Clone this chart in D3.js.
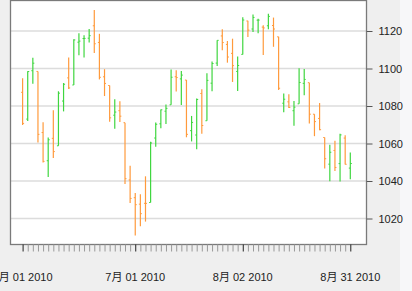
<!DOCTYPE html>
<html>
<head>
<meta charset="utf-8">
<script src="https://cdn.jsdelivr.net/npm/d3@7"></script>
<style>
  body { margin: 0; background: #efefef; }
  svg { display: block; }
  text { font-family: "Liberation Sans", Arial, "Noto Sans CJK SC", sans-serif; font-size: 11px; fill: #222; }
</style>
</head>
<body>
<div id="chart"></div>
<script>
// S&P 500 daily bars, 2010-06-01 .. 2010-08-31
var dates = ['2010-06-01','2010-06-02','2010-06-03','2010-06-04','2010-06-07','2010-06-08','2010-06-09','2010-06-10','2010-06-11',
  '2010-06-14','2010-06-15','2010-06-16','2010-06-17','2010-06-18','2010-06-21','2010-06-22','2010-06-23','2010-06-24','2010-06-25',
  '2010-06-28','2010-06-29','2010-06-30','2010-07-01','2010-07-02','2010-07-06','2010-07-07','2010-07-08','2010-07-09',
  '2010-07-12','2010-07-13','2010-07-14','2010-07-15','2010-07-16','2010-07-19','2010-07-20','2010-07-21','2010-07-22','2010-07-23',
  '2010-07-26','2010-07-27','2010-07-28','2010-07-29','2010-07-30','2010-08-02','2010-08-03','2010-08-04','2010-08-05','2010-08-06',
  '2010-08-09','2010-08-10','2010-08-11','2010-08-12','2010-08-13','2010-08-16','2010-08-17','2010-08-18','2010-08-19','2010-08-20',
  '2010-08-23','2010-08-24','2010-08-25','2010-08-26','2010-08-27','2010-08-30','2010-08-31']
var open = [1087.30,1073.01,1098.82,1098.43,1065.84,1050.81,1062.75,1058.77,1082.65,
  1095.00,1091.21,1114.02,1115.98,1116.16,1122.79,1113.90,1095.57,1090.93,1075.10,
  1077.50,1071.10,1040.56,1031.10,1027.65,1028.09,1028.54,1062.92,1070.50,
  1077.23,1080.65,1095.61,1094.46,1093.85,1066.85,1064.53,1086.67,1072.14,1092.17,
  1102.89,1117.36,1112.84,1108.07,1098.44,1107.53,1125.34,1121.06,1125.78,1122.07,
  1122.80,1122.92,1116.89,1081.48,1082.22,1077.49,1081.16,1092.08,1092.44,1075.63,
  1073.36,1063.20,1048.98,1056.28,1049.27,1062.90,1046.88]
var high = [1094.77,1098.56,1105.67,1098.43,1071.36,1063.15,1077.74,1087.85,1092.25,
  1105.91,1115.59,1118.74,1117.72,1121.01,1131.23,1118.50,1099.64,1090.93,1083.56,
  1082.60,1071.10,1048.08,1033.58,1032.95,1042.50,1060.89,1071.25,1078.16,
  1080.78,1099.46,1099.08,1098.66,1093.85,1074.70,1083.94,1088.96,1097.50,1103.73,
  1115.01,1120.95,1114.66,1115.90,1106.44,1127.30,1125.44,1128.75,1126.56,1123.06,
  1129.24,1127.16,1116.89,1086.72,1086.25,1082.62,1100.14,1099.77,1092.44,1075.63,
  1081.58,1063.20,1059.38,1061.45,1065.21,1064.40,1055.14]
var low = [1069.89,1072.03,1091.81,1060.50,1049.86,1042.17,1052.25,1058.77,1077.12,
  1089.03,1091.21,1107.13,1105.87,1113.93,1108.24,1094.18,1085.31,1071.60,1067.89,
  1071.45,1038.38,1028.33,1010.91,1015.93,1018.35,1028.54,1058.24,1068.10,
  1070.45,1080.65,1087.68,1080.53,1063.32,1061.11,1056.88,1065.25,1072.14,1087.88,
  1101.30,1109.78,1103.11,1092.82,1088.01,1107.53,1116.76,1119.46,1118.81,1107.17,
  1120.91,1111.58,1088.55,1076.69,1079.00,1069.49,1081.16,1085.76,1070.66,1063.91,
  1067.08,1046.68,1039.83,1045.40,1039.70,1048.79,1040.88]
var close = [1070.71,1098.38,1102.83,1064.88,1050.47,1062.00,1055.69,1086.84,1091.60,
  1089.63,1115.23,1114.61,1116.04,1117.51,1113.20,1095.31,1092.04,1073.69,1076.76,
  1074.57,1041.24,1030.71,1027.37,1022.58,1028.06,1060.27,1070.25,1077.96,
  1078.75,1095.34,1095.17,1096.48,1064.88,1071.25,1083.48,1069.59,1093.67,1102.66,
  1115.01,1113.84,1106.13,1101.53,1101.60,1125.86,1120.46,1127.24,1125.81,1121.64,
  1127.79,1121.06,1089.47,1083.61,1079.25,1079.38,1092.54,1094.16,1075.63,1071.69,
  1067.36,1051.87,1055.33,1047.22,1064.59,1048.92,1049.33]
var yTicks = [1020, 1040, 1060, 1080, 1100, 1120]
var xLabels = [['2010-06-01','6月 01 2010'],['2010-07-01','7月 01 2010'],['2010-08-02','8月 02 2010'],['2010-08-31','8月 31 2010']]

var upColor = '#3fd63f'
var downColor = '#ff9a3c'

var W = 412, H = 291
var plot = {left: 10.5, top: 0.5, right: 366.5, bottom: 244.5}

var bars = dates.map(function(d, i){
    return {date: d, i: i, o: open[i], h: high[i], l: low[i], c: close[i]}
})

var x = d3.scaleLinear().domain([0, dates.length - 1]).range([22.6, 350.3])
var y = d3.scaleLinear().domain([1020, 1120]).range([218.5, 31])

var svg = d3.select('#chart')
    .append('svg')
    .attr('width', W)
    .attr('height', H)

svg.append('rect')
    .attr('width', W).attr('height', H)
    .attr('fill', '#efefef')
svg.append('rect')
    .attr('x', 400).attr('width', W - 400).attr('height', H)
    .attr('fill', '#f7f7f9')

svg.append('clipPath').attr('id', 'pageclip')
    .append('rect').attr('x', 0).attr('y', 0).attr('width', 400).attr('height', H)

svg.append('rect')
    .attr('x', plot.left).attr('y', plot.top)
    .attr('width', plot.right - plot.left)
    .attr('height', plot.bottom - plot.top)
    .attr('fill', 'white')

// grid
svg.append('g').selectAll('line')
    .data(yTicks)
    .enter().append('line')
    .attr('x1', plot.left).attr('x2', plot.right)
    .attr('y1', function(d){ return y(d) })
    .attr('y2', function(d){ return y(d) })
    .attr('stroke', '#dcdcdc')
    .attr('stroke-width', 1.5)

// OHLC bars
var g = svg.append('g')
var col = function(d){ return d.c >= d.o ? upColor : downColor }
g.selectAll('line.hl').data(bars).enter().append('line')
    .attr('class', 'hl')
    .attr('x1', function(d){ return x(d.i) }).attr('x2', function(d){ return x(d.i) })
    .attr('y1', function(d){ return y(d.h) }).attr('y2', function(d){ return y(d.l) })
    .attr('stroke', col).attr('stroke-width', 1.2)
g.selectAll('line.op').data(bars).enter().append('line')
    .attr('class', 'op')
    .attr('x1', function(d){ return x(d.i) - 1.5 }).attr('x2', function(d){ return x(d.i) })
    .attr('y1', function(d){ return y(d.o) }).attr('y2', function(d){ return y(d.o) })
    .attr('stroke', col).attr('stroke-width', 1)
g.selectAll('line.cl').data(bars).enter().append('line')
    .attr('class', 'cl')
    .attr('x1', function(d){ return x(d.i) }).attr('x2', function(d){ return x(d.i) + 1.5 })
    .attr('y1', function(d){ return y(d.c) }).attr('y2', function(d){ return y(d.c) })
    .attr('stroke', col).attr('stroke-width', 1)

// frame
svg.append('rect')
    .attr('x', plot.left).attr('y', plot.top)
    .attr('width', plot.right - plot.left)
    .attr('height', plot.bottom - plot.top)
    .attr('fill', 'none')
    .attr('stroke', '#7a7a7a')
    .attr('stroke-width', 1.3)

// right y axis
var yAxis = d3.axisRight(y).tickValues(yTicks).tickSize(6).tickPadding(6).tickFormat(d3.format('d'))
var ya = svg.append('g')
    .attr('transform', 'translate(' + plot.right + ',0)')
    .attr('clip-path', 'url(#pageclip)')
    .call(yAxis)
ya.select('.domain').remove()
ya.selectAll('line').attr('stroke', '#555')
ya.selectAll('text').attr('font-size', 11).attr('font-family', null).attr('fill', '#222')

// bottom x axis: one tick per trading day
var majorIdx = xLabels.map(function(l){ return dates.indexOf(l[0]) })
var xAxis = d3.axisBottom(x)
    .tickValues(d3.range(dates.length))
    .tickSize(7)
    .tickFormat('')
var xa = svg.append('g')
    .attr('transform', 'translate(0,' + plot.bottom + ')')
    .call(xAxis)
xa.select('.domain').remove()
xa.selectAll('.tick line')
    .attr('stroke', function(d){ return majorIdx.indexOf(d) >= 0 ? '#222' : '#999' })

svg.append('g').selectAll('text')
    .data(xLabels)
    .enter().append('text')
    .attr('x', function(d){ return x(dates.indexOf(d[0])) })
    .attr('y', 281)
    .attr('text-anchor', 'middle')
    .text(function(d){ return d[1] })
</script>
</body>
</html>
